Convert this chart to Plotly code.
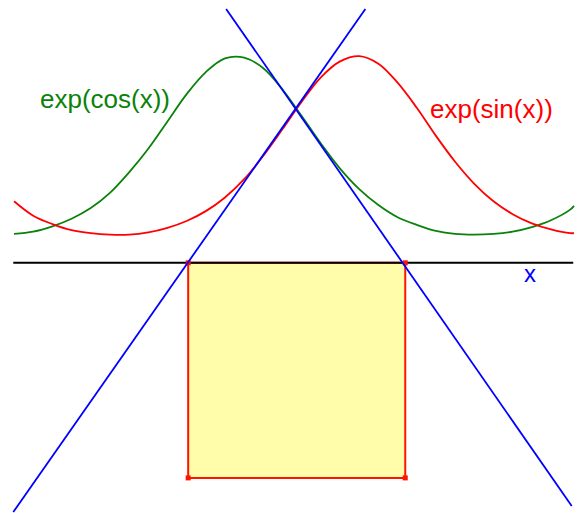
import plotly.graph_objects as go

# sample points
xs = [-2.9, -2.65, -2.4, -2.15, -1.9, -1.65, -1.4, -1.15, -0.9, -0.65, -0.4, -0.15,
      0.1, 0.35, 0.6, 0.85, 1.1, 1.35, 1.6, 1.85, 2.1, 2.35, 2.6, 2.85, 3.1, 3.35,
      3.6, 3.85, 4.1, 4.35, 4.4]
exp_cos = [0.38, 0.41, 0.48, 0.58, 0.72, 0.92, 1.19, 1.50, 1.86, 2.22, 2.51, 2.69,
           2.70, 2.56, 2.28, 1.93, 1.57, 1.24, 0.97, 0.76, 0.60, 0.50, 0.42, 0.38,
           0.37, 0.38, 0.41, 0.47, 0.56, 0.70, 0.75]
exp_sin = [0.81, 0.62, 0.51, 0.43, 0.39, 0.37, 0.37, 0.40, 0.46, 0.55, 0.68, 0.86,
           1.10, 1.41, 1.76, 2.12, 2.44, 2.65, 2.72, 2.62, 2.37, 2.04, 1.67, 1.33,
           1.04, 0.81, 0.64, 0.52, 0.44, 0.39, 0.39]

# tangent lines through the crossing point
rise_x = [-2.91, 1.68]
rise_y = [-3.28, 3.34]
fall_x = [-0.135, 4.37]
fall_y = [3.34, -3.20]

# x axis and the square under it
axis_x = [-2.91, 4.39]
axis_y = [0, 0]
sq_x = [-0.63, 2.2, 2.2, -0.63, -0.63]
sq_y = [0, 0, -2.83, -2.83, 0]

fig = go.Figure()

fig.add_trace(go.Scatter(x=sq_x, y=sq_y, mode='lines', fill='toself',
                         fillcolor='rgb(255,252,170)',
                         line=dict(color='rgb(255,20,0)', width=2)))
fig.add_trace(go.Scatter(x=axis_x, y=axis_y, mode='lines',
                         line=dict(color='black', width=2)))
fig.add_trace(go.Scatter(x=sq_x[:4], y=sq_y[:4], mode='markers',
                         marker=dict(symbol='square', size=5, color='rgb(255,20,0)')))

fig.add_trace(go.Scatter(x=xs, y=exp_cos, mode='lines', line_shape='spline',
                         line=dict(color='rgb(10,130,10)', width=1.8)))
fig.add_trace(go.Scatter(x=xs, y=exp_sin, mode='lines', line_shape='spline',
                         line=dict(color='rgb(255,0,0)', width=1.8)))

fig.add_trace(go.Scatter(x=rise_x, y=rise_y, mode='lines',
                         line=dict(color='rgb(0,0,255)', width=1.8)))
fig.add_trace(go.Scatter(x=fall_x, y=fall_y, mode='lines',
                         line=dict(color='rgb(0,0,255)', width=1.8)))

font = 'Liberation Sans, Arial, sans-serif'
fig.add_annotation(x=-1.72, y=2.16, text='exp(cos(x))', showarrow=False,
                   font=dict(family=font, size=26, color='rgb(10,130,10)'))
fig.add_annotation(x=3.32, y=2.03, text='exp(sin(x))', showarrow=False,
                   font=dict(family=font, size=26, color='rgb(255,0,0)'))
fig.add_annotation(x=3.83, y=-0.14, text='x', showarrow=False,
                   font=dict(family=font, size=24, color='rgb(0,0,255)'))

fig.update_layout(width=578, height=513, showlegend=False,
                  margin=dict(l=0, r=0, t=0, b=0),
                  plot_bgcolor='white', paper_bgcolor='white',
                  hovermode=False,
                  xaxis=dict(range=[-3.083, 4.452], visible=False),
                  yaxis=dict(range=[-3.292, 3.458], visible=False))

# drop the browser's default body margin so the figure fills the window
fig.write_html("out.html", config={'displayModeBar': False},
               post_script="document.body.style.margin='0';")
